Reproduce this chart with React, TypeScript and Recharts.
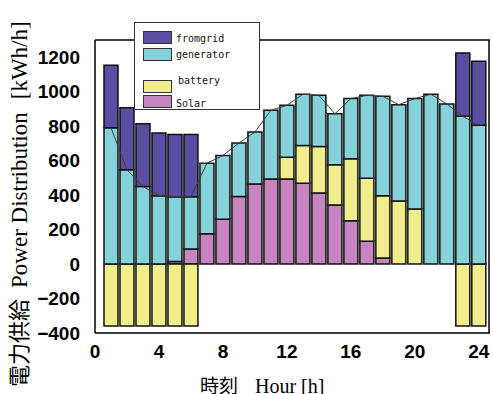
import React from 'react';
import { ComposedChart, Bar, Line, XAxis, YAxis, Legend } from 'recharts';

// ---- data ----
const hours = [1, 2, 3, 4, 5, 6, 7, 8, 9, 10, 11, 12, 13, 14, 15, 16, 17, 18, 19, 20, 21, 22, 23, 24];
const solar = [0, 0, 0, 0, 15, 87, 176, 260, 392, 465, 494, 494, 469, 413, 343, 252, 132, 35, 0, 0, 0, 0, 0, 0];
const battery = [-360, -360, -360, -360, -360, -360, 0, 0, 0, 0, 0, 126, 219, 269, 233, 359, 366, 362, 366, 320, 0, 0, -360, -360];
const generator = [791, 547, 450, 397, 376, 304, 409, 370, 310, 301, 398, 301, 297, 297, 296, 349, 481, 576, 559, 640, 985, 929, 857, 805];
const fromgrid = [362, 360, 364, 363, 361, 361, 0, 0, 0, 0, 0, 0, 0, 0, 0, 0, 0, 0, 0, 0, 0, 0, 368, 372];
const demand = [791, 547, 450, 397, 391, 391, 585, 630, 702, 766, 892, 921, 985, 979, 872, 960, 979, 973, 925, 960, 985, 929, 857, 805];

const xTicks = [0, 4, 8, 12, 16, 20, 24];
const xMinorTicks = [0, 1, 2, 3, 4, 5, 6, 7, 8, 9, 10, 11, 12, 13, 14, 15, 16, 17, 18, 19, 20, 21, 22, 23, 24];
const yTicks = [-400, -200, 0, 200, 400, 600, 800, 1000, 1200];
const yMinorTicks = [-400, -350, -300, -250, -200, -150, -100, -50, 0, 50, 100, 150, 200, 250, 300, 350, 400, 450, 500, 550, 600, 650, 700, 750, 800, 850, 900, 950, 1000, 1050, 1100, 1150, 1200, 1250, 1300];

const legendNames = ['fromgrid', 'generator', 'battery', 'Solar'];

const COLORS: Record<string, string> = {
  fromgrid: '#5a4ea3',
  generator: '#86d2da',
  battery: '#f0ee8a',
  Solar: '#c586bf',
};

const data = hours.map((h, i) => ({
  hour: h,
  solar: solar[i],
  battery: battery[i],
  generator: generator[i],
  fromgrid: fromgrid[i],
  demand: demand[i],
}));

const X_DOMAIN: [number, number] = [0, 24.7];
const Y_DOMAIN: [number, number] = [-400, 1300];

const tickFont = {
  fontFamily: '"Liberation Sans Narrow", "Liberation Sans", Arial, sans-serif',
  fontWeight: 700,
  fontSize: 19,
  fill: '#000',
};

const fmtY = (v: number) => (v < 0 ? '\u2212' + Math.abs(v) : String(v));

const YLabel = () => (
  <text transform="translate(27,387) rotate(-90)" x={0} y={0} fill="#000">
    <tspan fontFamily='"Noto Sans CJK JP", sans-serif' fontSize={22}>電力供給</tspan>
    <tspan dx={11} fontFamily='"Liberation Serif", "Times New Roman", serif' fontSize={23}>Power Distribution</tspan>
    <tspan dx={13} fontFamily='"Liberation Serif", "Times New Roman", serif' fontSize={23}>[kWh/h]</tspan>
  </text>
);

const XLabel = () => (
  <text x={200} y={393} fill="#000">
    <tspan fontFamily='"Noto Sans CJK JP", sans-serif' fontSize={19}>時刻</tspan>
    <tspan dx={17} fontFamily='"Liberation Serif", "Times New Roman", serif' fontSize={20}>Hour [h]</tspan>
  </text>
);

const legendLayout: Record<string, { top: number; text: number }> = {
  fromgrid: { top: 8, text: 20 },
  generator: { top: 25, text: 36 },
  battery: { top: 57, text: 62 },
  Solar: { top: 72, text: 85 },
};

const renderLegend = () => (
  <div style={{ position: 'relative', width: '100%', height: '100%' }}>
    {legendNames.map((name) => {
      const l = legendLayout[name];
      return (
        <React.Fragment key={name}>
          <div
            style={{
              position: 'absolute',
              left: 8,
              top: l.top,
              width: 29,
              height: 13,
              background: COLORS[name],
              border: '1px solid #333',
              boxSizing: 'border-box',
            }}
          />
          <div
            style={{
              position: 'absolute',
              left: name === 'battery' ? 43 : 41,
              top: l.text - 10,
              fontFamily: '"DejaVu Sans Mono", monospace',
              fontSize: 10,
              lineHeight: '12px',
              color: '#111',
              whiteSpace: 'nowrap',
            }}
          >
            {name}
          </div>
        </React.Fragment>
      );
    })}
  </div>
);

const barStroke = '#111';
const barStrokeWidth = 1.5;

export default function App() {
  return (
    <div style={{ position: 'absolute', left: 0, top: 0, width: 493, height: 394, background: '#fff' }}>
      <ComposedChart
        width={493}
        height={394}
        data={data}
        margin={{ top: 40, right: 3, left: 0, bottom: 0 }}
        stackOffset="sign"
      >
        {/* main axes with labels */}
        <XAxis
          xAxisId="x"
          dataKey="hour"
          type="number"
          domain={X_DOMAIN}
          allowDataOverflow
          ticks={xTicks}
          interval={0}
          height={61}
          tickLine={false}
          tickSize={0}
          tickMargin={12}
          axisLine={{ stroke: '#000', strokeWidth: 1.5 }}
          tick={tickFont}
          label={<XLabel />}
        />
        <YAxis
          yAxisId="y"
          type="number"
          domain={Y_DOMAIN}
          allowDataOverflow
          ticks={yTicks}
          interval={0}
          width={95}
          tickLine={false}
          tickSize={0}
          tickMargin={15}
          tickFormatter={fmtY}
          axisLine={{ stroke: '#000', strokeWidth: 1.5 }}
          tick={tickFont}
          label={<YLabel />}
        />
        {/* inward tick marks (mirrored, label-less axes) */}
        <XAxis xAxisId="xmin" dataKey="hour" type="number" domain={X_DOMAIN} allowDataOverflow orientation="bottom" mirror height={1}
          ticks={xMinorTicks} interval={0} tickSize={4} tick={false} axisLine={false} tickLine={{ stroke: '#000', strokeWidth: 1 }} />
        <XAxis xAxisId="xmaj" dataKey="hour" type="number" domain={X_DOMAIN} allowDataOverflow orientation="bottom" mirror height={1}
          ticks={xTicks} interval={0} tickSize={7} tick={false} axisLine={false} tickLine={{ stroke: '#000', strokeWidth: 1.2 }} />
        <XAxis xAxisId="xtop" dataKey="hour" type="number" domain={X_DOMAIN} allowDataOverflow orientation="top" mirror height={1}
          ticks={xMinorTicks} interval={0} tickSize={4} tick={false} axisLine={{ stroke: '#000', strokeWidth: 1.5 }} tickLine={{ stroke: '#000', strokeWidth: 1 }} />
        <YAxis yAxisId="ymin" type="number" domain={Y_DOMAIN} allowDataOverflow orientation="left" mirror width={1}
          ticks={yMinorTicks} interval={0} tickSize={3} tick={false} axisLine={false} tickLine={{ stroke: '#000', strokeWidth: 1 }} />
        <YAxis yAxisId="ymaj" type="number" domain={Y_DOMAIN} allowDataOverflow orientation="left" mirror width={1}
          ticks={yTicks} interval={0} tickSize={6} tick={false} axisLine={false} tickLine={{ stroke: '#000', strokeWidth: 1.2 }} />
        <YAxis yAxisId="yrmin" type="number" domain={Y_DOMAIN} allowDataOverflow orientation="right" mirror width={1}
          ticks={yMinorTicks} interval={0} tickSize={3} tick={false} axisLine={{ stroke: '#000', strokeWidth: 1.5 }} tickLine={{ stroke: '#000', strokeWidth: 1 }} />
        <YAxis yAxisId="yrmaj" type="number" domain={Y_DOMAIN} allowDataOverflow orientation="right" mirror width={1}
          ticks={yTicks} interval={0} tickSize={6} tick={false} axisLine={false} tickLine={{ stroke: '#000', strokeWidth: 1.2 }} />

        <Bar xAxisId="x" yAxisId="y" dataKey="solar" name="Solar" stackId="s" fill={COLORS.Solar} stroke={barStroke} strokeWidth={barStrokeWidth} barSize={14} isAnimationActive={false} />
        <Bar xAxisId="x" yAxisId="y" dataKey="battery" name="battery" stackId="s" fill={COLORS.battery} stroke={barStroke} strokeWidth={barStrokeWidth} barSize={14} isAnimationActive={false} />
        <Bar xAxisId="x" yAxisId="y" dataKey="generator" name="generator" stackId="s" fill={COLORS.generator} stroke={barStroke} strokeWidth={barStrokeWidth} barSize={14} isAnimationActive={false} />
        <Bar xAxisId="x" yAxisId="y" dataKey="fromgrid" name="fromgrid" stackId="s" fill={COLORS.fromgrid} stroke={barStroke} strokeWidth={barStrokeWidth} barSize={14} isAnimationActive={false} />
        <Line xAxisId="x" yAxisId="y" dataKey="demand" type="linear" stroke="#3c3c3c" strokeWidth={1} dot={false} legendType="none" isAnimationActive={false} />

        <Legend
          layout="vertical"
          align="center"
          verticalAlign="middle"
          content={renderLegend}
          wrapperStyle={{
            position: 'absolute',
            left: 134,
            top: 22,
            width: 126,
            height: 88,
            background: '#fff',
            border: '1px solid #333',
            boxSizing: 'border-box',
            overflow: 'hidden',
          }}
        />
      </ComposedChart>
    </div>
  );
}
